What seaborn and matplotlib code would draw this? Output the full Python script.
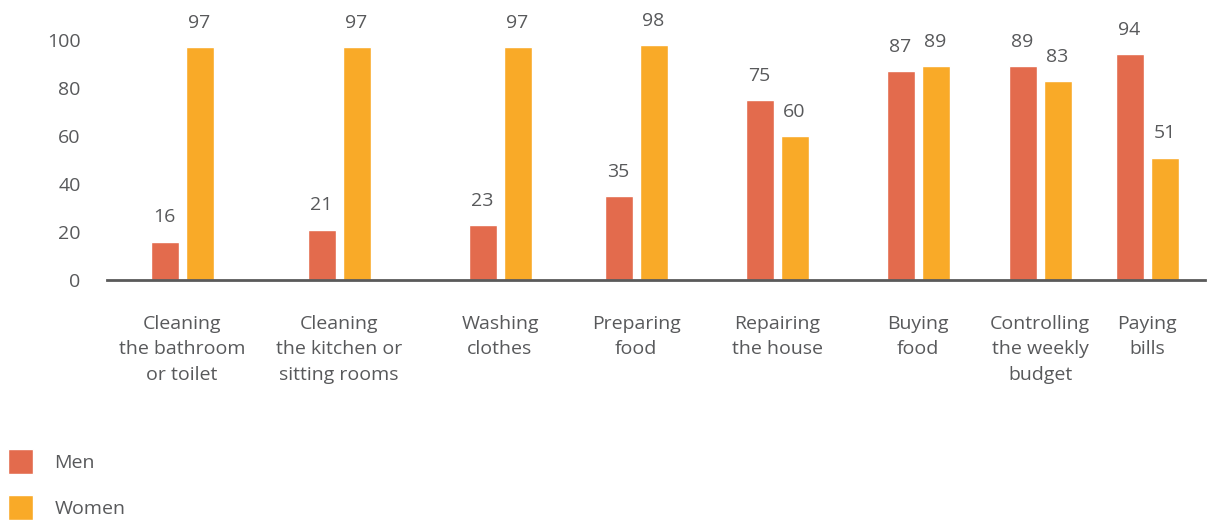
import matplotlib
matplotlib.use('Agg')
import matplotlib.pyplot as plt
import pandas as pd
import seaborn as sns

# Data
tasks = ['Cleaning\nthe bathroom\nor toilet', 'Cleaning\nthe kitchen or\nsitting rooms',
         'Washing\nclothes', 'Preparing\nfood', 'Repairing\nthe house', 'Buying\nfood',
         'Controlling\nthe weekly\nbudget', 'Paying\nbills']
men = [16, 21, 23, 35, 75, 87, 89, 94]
women = [97, 97, 97, 98, 60, 89, 83, 51]
groups = ['Men', 'Women']

# group centres (layout only, the original spacing is uneven)
group_pos = [182, 339, 500, 636, 777, 918, 1040, 1147]

colors = ['#E36B4D', '#F9AA28']
text_color = '#58595B'

df = pd.DataFrame({
    'pos': group_pos * 2,
    'value': men + women,
    'group': ['Men'] * len(men) + ['Women'] * len(women),
})

sns.set_style('white')
plt.rcParams['font.family'] = ['Open Sans', 'DejaVu Sans']

fig = plt.figure(figsize=(12.14, 5.2), dpi=100)
ax = fig.add_axes([107 / 1214, 1 - 280 / 520, (1205 - 107) / 1214, 240 / 520])

sns.barplot(data=df, x='pos', y='value', hue='group', hue_order=groups,
            palette=colors, native_scale=True, width=70 / 107, gap=0.2,
            saturation=1, ax=ax, legend=True)

for c in ax.containers:
    ax.bar_label(c, padding=11, fontsize=14, color=text_color, clip_on=False)

ax.set_xlim(107, 1205)
ax.set_ylim(0, 100)
ax.set_xticks(group_pos, tasks, fontsize=14, color=text_color, linespacing=1.55, va='top')
ax.set_yticks([0, 20, 40, 60, 80, 100])
ax.set_yticklabels(['0', '20', '40', '60', '80', '100'], fontsize=14, color=text_color)
ax.tick_params(axis='x', length=0, pad=25)
ax.tick_params(axis='y', length=0, pad=19)
ax.set_xlabel('')
ax.set_ylabel('')
for s in ['top', 'right', 'left']:
    ax.spines[s].set_visible(False)
ax.spines['bottom'].set_color('#5A5A5A')
ax.spines['bottom'].set_linewidth(2)

handles, labels = ax.get_legend_handles_labels()
ax.legend_.remove()
fig.legend(handles, labels, loc='upper left', bbox_to_anchor=(0.0, 1 - 441 / 520),
           frameon=False, fontsize=14, labelcolor=text_color, handlelength=1.3,
           handleheight=1.65, handletextpad=1.1, labelspacing=1.05, borderpad=0,
           borderaxespad=0.4)

fig.savefig('out.png', dpi=100)
